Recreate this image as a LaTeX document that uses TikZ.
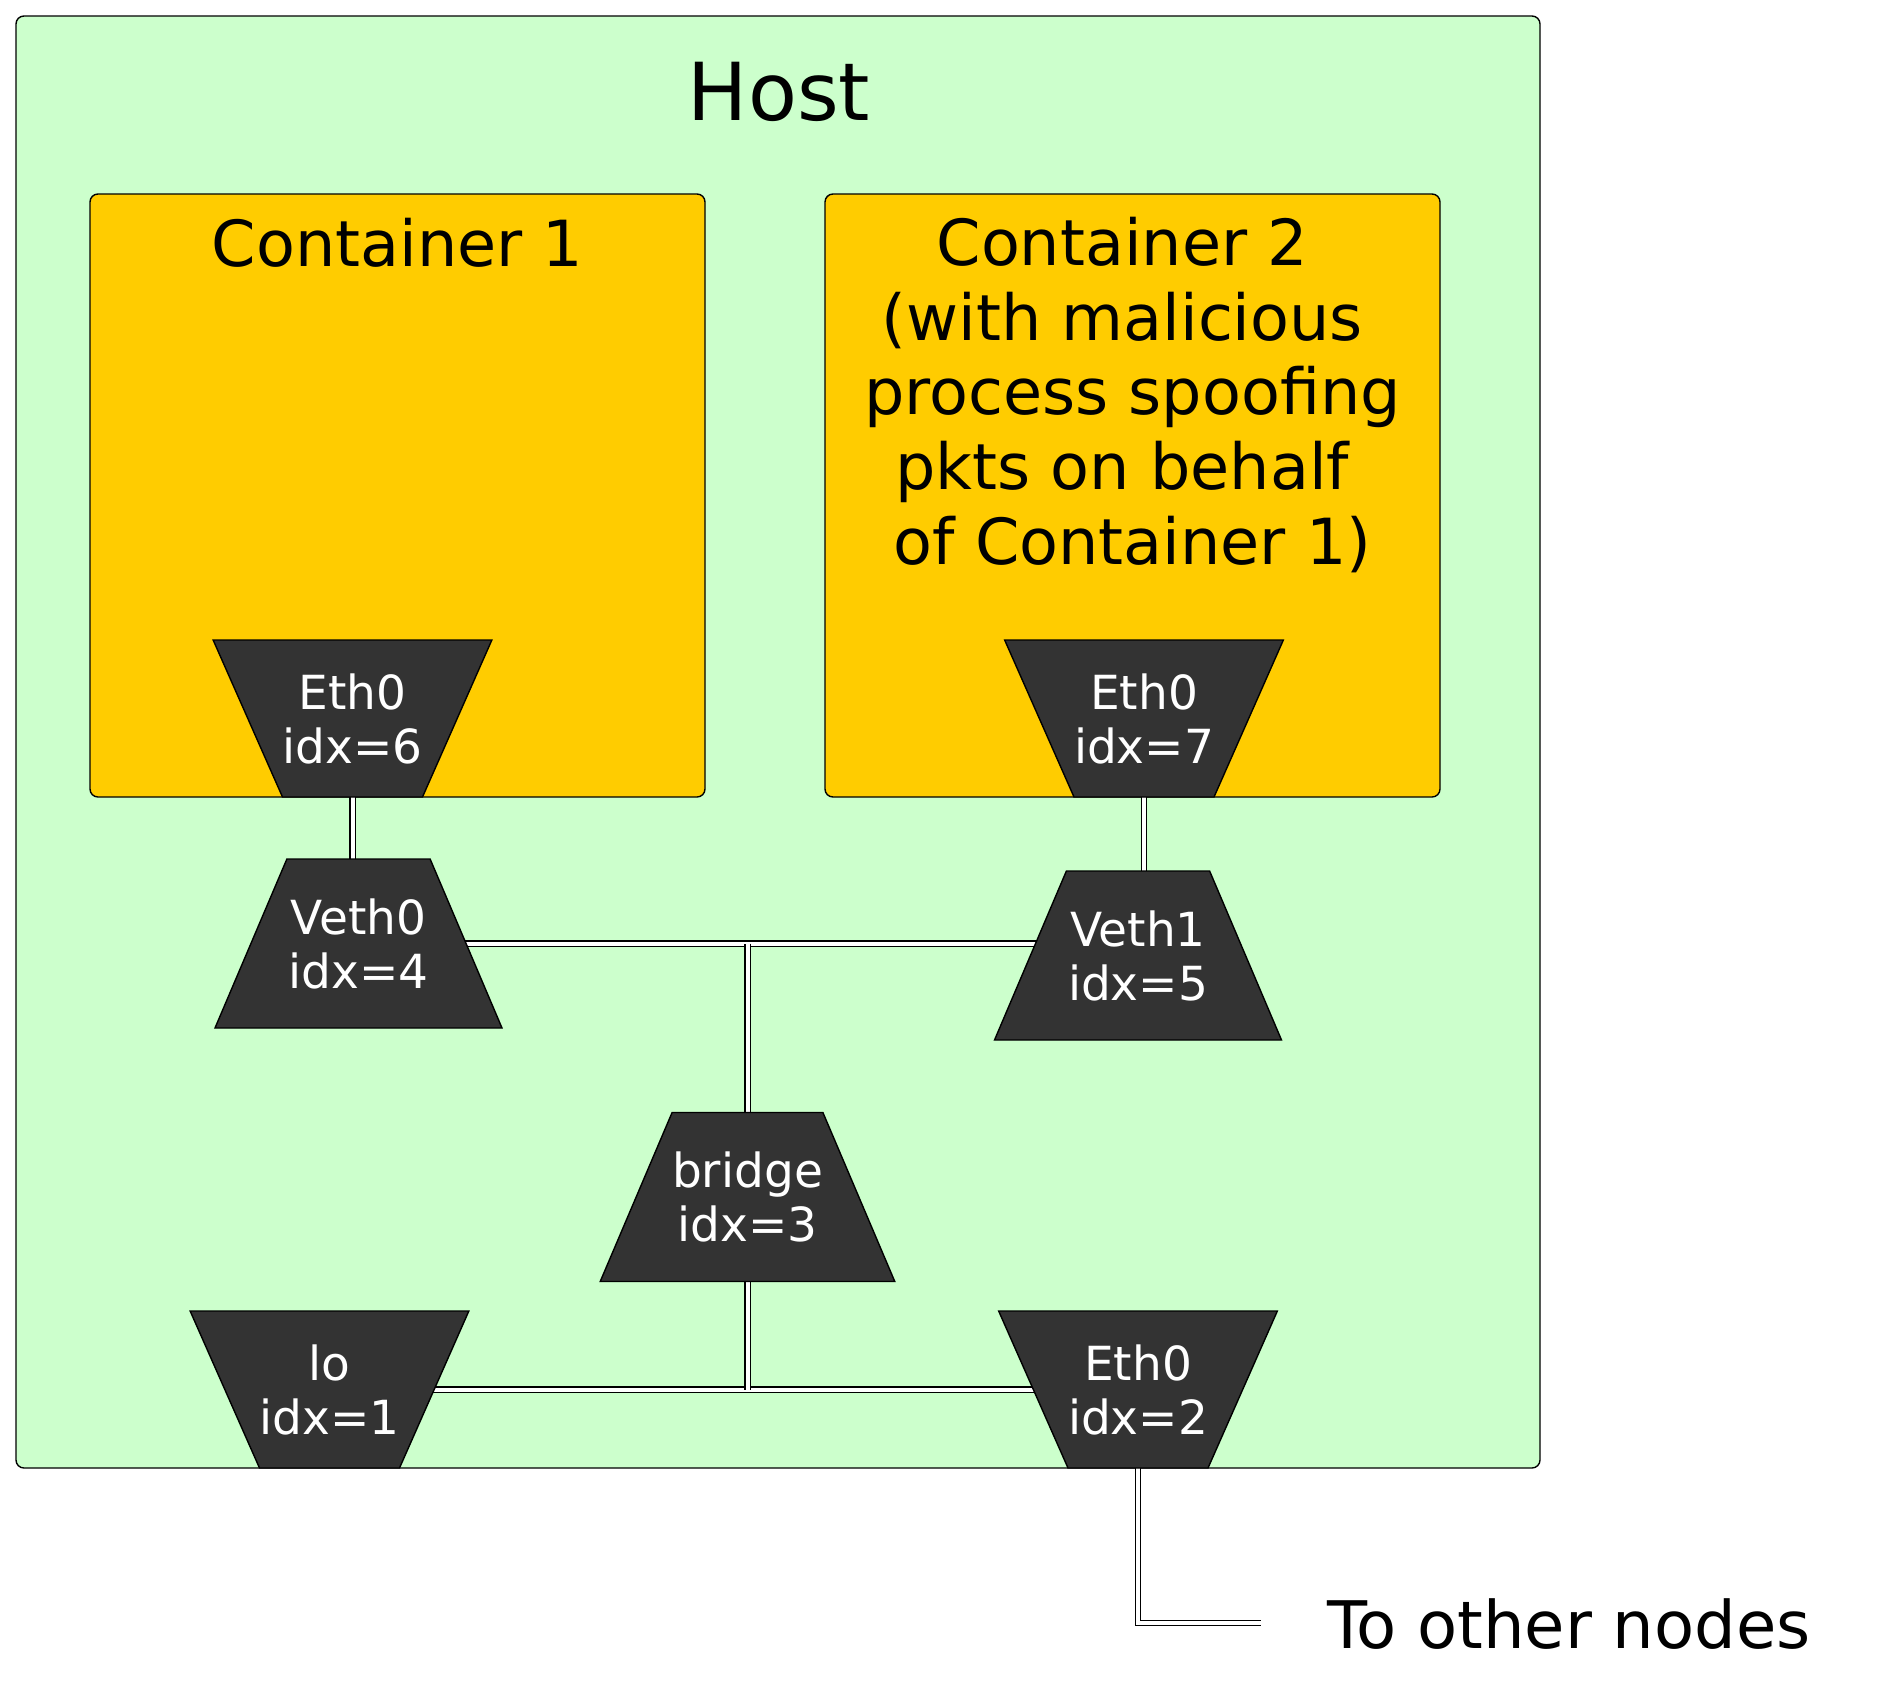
\documentclass[tikz,border=0pt]{standalone}
\usepackage{fontspec}
\setmainfont{DejaVu Sans}
\usetikzlibrary{shapes.geometric}
\definecolor{hostgreen}{HTML}{CCFFCC}
\definecolor{boxyellow}{HTML}{FFCC00}
\definecolor{ifgray}{HTML}{333333}
\newcommand{\tsp}{\hphantom{\ }}
\pgfdeclarelayer{back}
\pgfdeclarelayer{wires}
\pgfsetlayers{back,wires,main}

\begin{document}
\begin{tikzpicture}[x=0.5pt, y=-0.5pt,
	box/.style={draw, line width=0.7pt, rounded corners=4pt},
	iface/.style={trapezium, draw, fill=ifgray, text=white, line width=0.7pt,
	trapezium left angle=51.5, trapezium right angle=51.5, trapezium stretches body,
	minimum width=143.5pt, minimum height=84.5pt, inner sep=0pt,
	align=center, font=\fontsize{23.5}{27}\selectfont},
	ifdown/.style={iface, shape border rotate=180,
	trapezium left angle=52.5, trapezium right angle=52.5,
	minimum width=137.5pt, minimum height=78.5pt},
	wire/.style={draw, line width=0.6pt, double=white, double distance=2pt},
	big/.style={inner sep=0pt, font=\fontsize{31.8}{37.3}\selectfont}]
	\useasboundingbox (0,0) rectangle (1894,1698);
	\begin{pgfonlayer}{back}
	\draw[box, fill=hostgreen] (16,16) rectangle (1540,1468);
	\draw[box, fill=boxyellow] (90,194) rectangle (705,797);
	\draw[box, fill=boxyellow] (825,194) rectangle (1440,797);
	\end{pgfonlayer}
	% titles
	\node[inner sep=0pt, anchor=base, font=\fontsize{40}{48}\selectfont] (host) at (779,120) {Host};
	\node[big, anchor=base] (c1) at (397.5,266) {Container 1};
	\node[big, align=center] (c2) at (1132.5,395) {Container 2\tsp\\(with malicious\tsp\\process spoofing\\pkts on behalf\tsp\\of Container 1)};
	% interfaces
	\node[ifdown] (eth6) at (352.5,718.5) {Eth0\\idx=6};
	\node[ifdown] (eth7) at (1144,718.5) {Eth0\\idx=7};
	\node[iface] (veth0) at (358.5,943.5) {Veth0\\idx=4};
	\node[iface] (veth1) at (1138,955.5) {Veth1\\idx=5};
	\node[iface] (bridge) at (747.5,1197) {bridge\\idx=3};
	\node[ifdown] (lo) at (329.5,1389.5) {lo\\idx=1};
	\node[ifdown] (eth2) at (1138,1389.5) {Eth0\\idx=2};
	\coordinate (out) at (1261,1623);
	\node[inner sep=0pt, anchor=base west, font=\fontsize{32.8}{38}\selectfont] (others) at (1327,1648) {To other nodes};
	\begin{pgfonlayer}{wires}
	\draw[wire] (eth6.center) -- (eth6.center |- veth0.center);
	\draw[wire] (eth7.center) -- (eth7.center |- veth1.center);
	\draw[wire] (veth0.center) -- (veth0.center -| veth1.center);
	\draw[wire] (veth0.center -| bridge.center) -- (bridge.center);
	\draw[wire] (lo.center) -- (eth2.center);
	\draw[wire] (bridge.center) -- (bridge.center |- lo.center);
	\draw[wire] (eth2.center) |- (out);
	\end{pgfonlayer}
\end{tikzpicture}
\end{document}
